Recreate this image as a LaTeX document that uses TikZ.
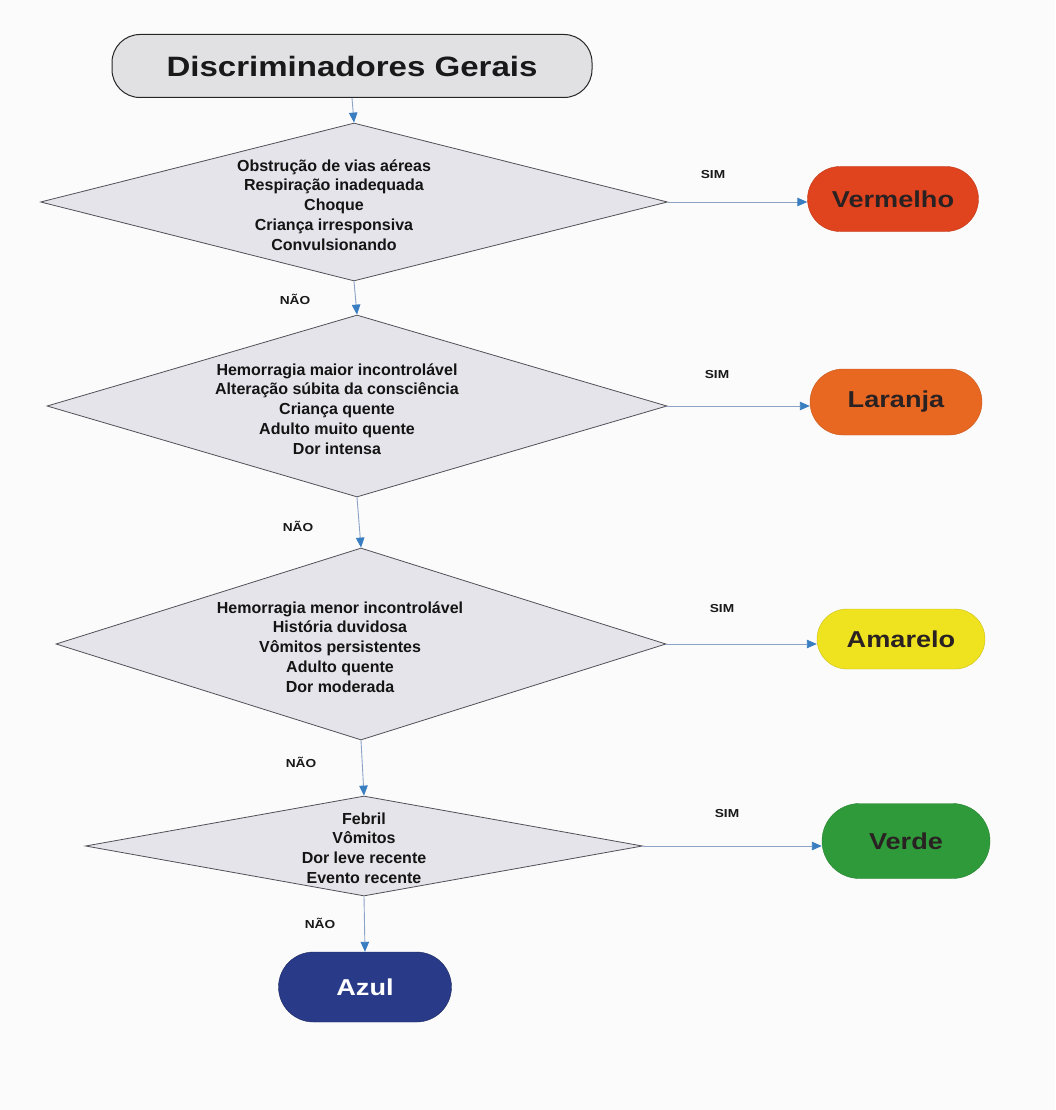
\documentclass[tikz,border=0pt]{standalone}
\usepackage{fontspec}
\setmainfont{Liberation Sans}[FakeStretch=1.18]
\newfontfamily\criteriafont{Liberation Sans}
\usetikzlibrary{shapes.geometric,shapes.misc,arrows.meta}

\definecolor{pagebg}{HTML}{FCFBFB}
\definecolor{boxgray}{HTML}{E1E1E4}
\definecolor{diagray}{HTML}{E4E4EA}
\definecolor{edgegray}{HTML}{505058}
\definecolor{flowline}{HTML}{8CA2C6}
\definecolor{flowtip}{HTML}{3A7EC2}
\definecolor{inkdark}{HTML}{2A2222}
\definecolor{cred}{HTML}{E0441F}
\definecolor{corange}{HTML}{E86822}
\definecolor{cyellow}{HTML}{EFE21F}
\definecolor{cgreen}{HTML}{2E9A3A}
\definecolor{cblue}{HTML}{283A88}

\tikzset{
  titlebox/.style={draw=black!85, line width=1pt, fill=boxgray,
    rounded corners=28pt, minimum width=480pt, minimum height=63pt,
    inner sep=0pt, text=black!90,
    font=\bfseries\fontsize{28}{32}\selectfont},
  decision/.style={diamond, draw=edgegray, line width=0.8pt, fill=diagray,
    inner sep=0pt, aspect=1},
  dtext/.style={align=center, inner sep=0pt, text=black!92,
    font=\criteriafont\bfseries\fontsize{16}{19.8}\selectfont},
  outcome/.style={rounded rectangle, inner sep=0pt, text=inkdark,
    font=\bfseries\fontsize{23}{26}\selectfont},
  flow/.style={draw=flowline, line width=0.9pt,
    -{Triangle[length=10pt,width=8.5pt,fill=flowtip,color=flowtip]}},
  lbl/.style={inner sep=0pt, text=black!90,
    font=\bfseries\fontsize{11.6}{13}\selectfont}
}

\begin{document}
\begin{tikzpicture}[x=1pt,y=-1pt]
  \fill[pagebg] (0,0) rectangle (1055,1110);
  \useasboundingbox (0,0) rectangle (1055,1110);

  % start node
  \node[titlebox] (title) at (352,66) {Discriminadores Gerais};

  % decision diamonds
  \node[decision, minimum width=627pt, minimum height=158pt] (d1) at (354,202) {};
  \node[decision, minimum width=620pt, minimum height=182pt] (d2) at (357,406) {};
  \node[decision, minimum width=610pt, minimum height=192pt] (d3) at (361,644) {};
  \node[decision, minimum width=557pt, minimum height=100pt] (d4) at (364,846) {};

  % criteria lists, set a little left of the diamond centres
  \node[dtext] (d1t) at ([xshift=-20pt,yshift=-3pt]d1.center) {Obstrução de vias aéreas\\Respiração inadequada\\Choque\\Criança irresponsiva\\Convulsionando};
  \node[dtext] (d2t) at ([xshift=-20pt,yshift=-3pt]d2.center) {Hemorragia maior incontrolável\\Alteração súbita da consciência\\Criança quente\\Adulto muito quente\\Dor intensa};
  \node[dtext] (d3t) at ([xshift=-21pt,yshift=-3pt]d3.center) {Hemorragia menor incontrolável\\História duvidosa\\Vômitos persistentes\\Adulto quente\\Dor moderada};
  \node[dtext] (d4t) at ([yshift=-2pt]d4.center) {Febril\\Vômitos\\Dor leve recente\\Evento recente};

  % priority outcomes
  \node[outcome, fill=cred, draw=cred!85!black, minimum width=171pt, minimum height=65pt] (red) at (893,199) {Vermelho};
  \node[outcome, fill=corange, draw=corange!85!black, minimum width=172pt, minimum height=66pt] (orange) at (896,402) {Laranja};
  \node[outcome, fill=cyellow, draw=cyellow!85!black, minimum width=168pt, minimum height=60pt] (yellow) at (901,639) {Amarelo};
  \node[outcome, fill=cgreen, draw=cgreen!85!black, minimum width=168pt, minimum height=75pt] (green) at (906,841) {Verde};
  \node[outcome, fill=cblue, draw=cblue!70!black, text=white, minimum width=173pt, minimum height=70pt] (blue) at (365,987) {Azul};

  % main flow (NÃO branch)
  \draw[flow] (title.south) -- (d1.north);
  \draw[flow] (d1.south) -- (d2.north);
  \draw[flow] (d2.south) -- (d3.north);
  \draw[flow] (d3.south) -- (d4.north);
  \draw[flow] (d4.south) -- (blue.north);

  % SIM branches
  \draw[flow] (d1.east) -- (d1.east -| red.west);
  \draw[flow] (d2.east) -- (d2.east -| orange.west);
  \draw[flow] (d3.east) -- (d3.east -| yellow.west);
  \draw[flow] (d4.east) -- (d4.east -| green.west);

  % branch labels
  \node[lbl] (no1) at (295,299) {NÃO};
  \node[lbl] (no2) at (298,526) {NÃO};
  \node[lbl] (no3) at (301,762) {NÃO};
  \node[lbl] (no4) at (320,923) {NÃO};
  \node[lbl] (yes1) at (713,175) {SIM};
  \node[lbl] (yes2) at (717,375) {SIM};
  \node[lbl] (yes3) at (722,609) {SIM};
  \node[lbl] (yes4) at (727,813) {SIM};
\end{tikzpicture}
\end{document}
